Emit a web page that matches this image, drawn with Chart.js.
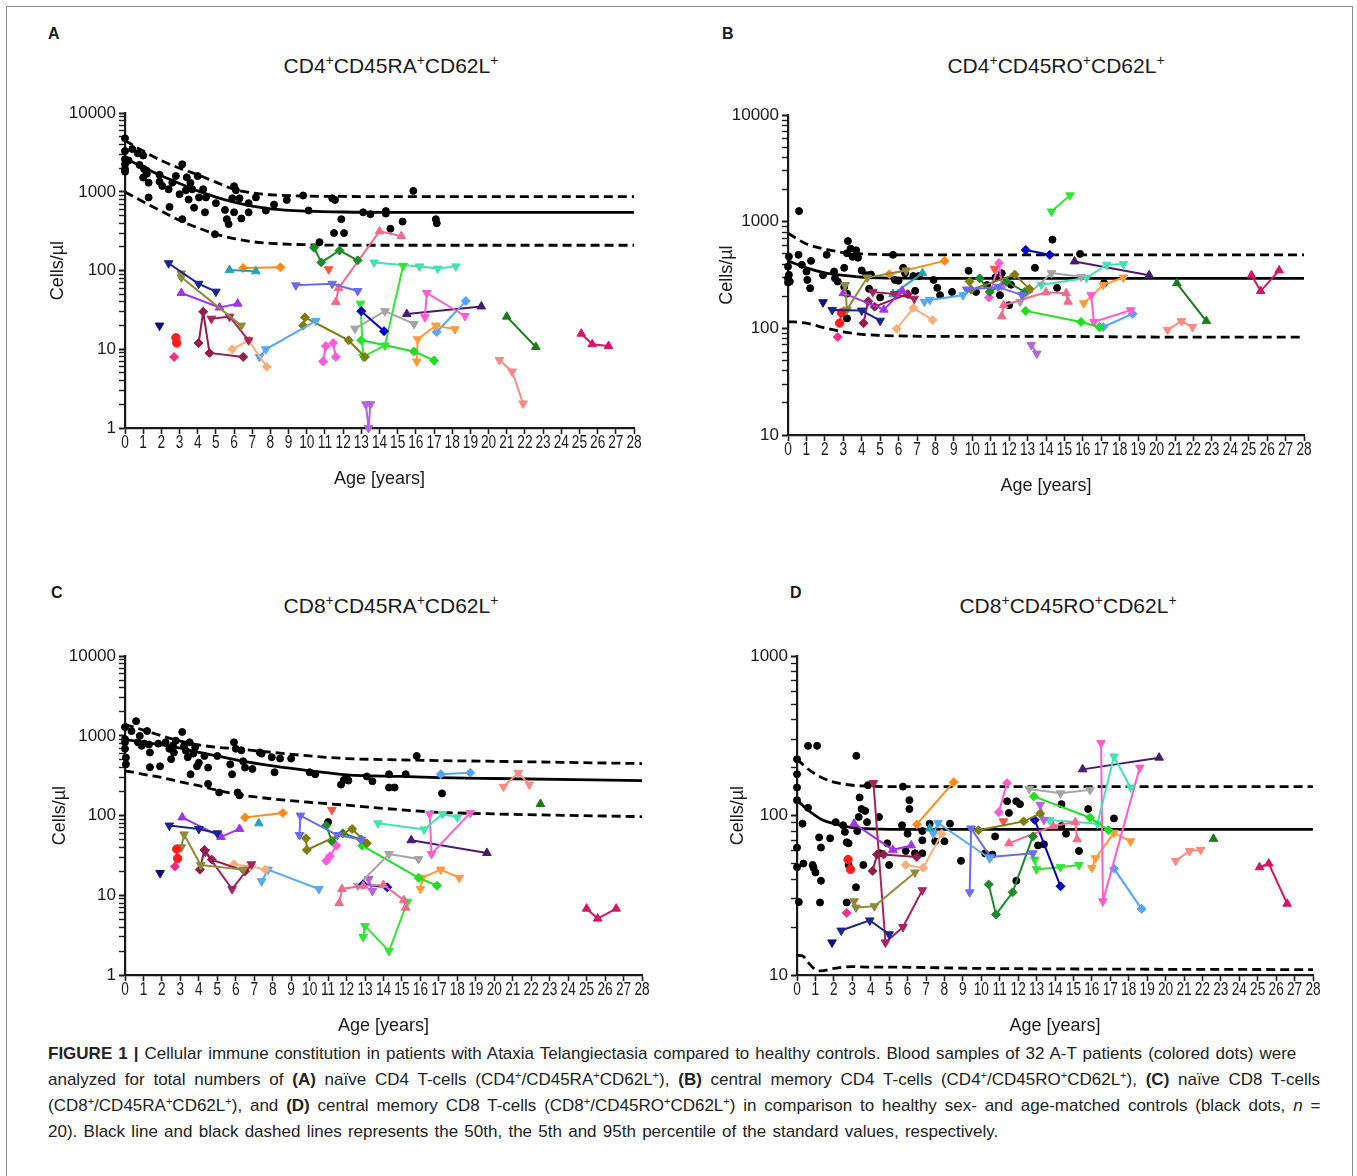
<!DOCTYPE html>
<html>
<head>
<meta charset="utf-8">
<script src="https://cdn.jsdelivr.net/npm/chart.js@4.4.1/dist/chart.umd.min.js"></script>
<style>
  body { margin: 0; width: 1357px; height: 1176px; background: #fff; position: relative; overflow: hidden; font-family: "Liberation Sans", Arial, sans-serif; color: #1a1a1a; }
  .frame { position: absolute; left: 6px; top: 6px; width: 1345px; height: 1200px; border: 1px solid #8f8f8f; }
  canvas { position: absolute; }
  .letter { position: absolute; font-weight: bold; font-size: 16px; }
  .ttl { position: absolute; font-size: 21px; transform: translateX(-50%); white-space: nowrap; }
  .ttl sup { font-size: 14px; vertical-align: 8px; line-height: 0; }
  .cap { position: absolute; left: 48px; font-size: 17px; white-space: nowrap; color: #222; }
  .cap sup { font-size: 11px; vertical-align: 6px; line-height: 0; }
</style>
</head>
<body>
<div class="frame"></div>

<div class="letter" style="left:48px;top:25px;">A</div>
<div class="letter" style="left:722px;top:25px;">B</div>
<div class="letter" style="left:51px;top:584px;">C</div>
<div class="letter" style="left:790px;top:584px;">D</div>

<div class="ttl" style="left:391px;top:54px;">CD4<sup>+</sup>CD45RA<sup>+</sup>CD62L<sup>+</sup></div>
<div class="ttl" style="left:1056px;top:54px;">CD4<sup>+</sup>CD45RO<sup>+</sup>CD62L<sup>+</sup></div>
<div class="ttl" style="left:391px;top:594px;">CD8<sup>+</sup>CD45RA<sup>+</sup>CD62L<sup>+</sup></div>
<div class="ttl" style="left:1068px;top:594px;">CD8<sup>+</sup>CD45RO<sup>+</sup>CD62L<sup>+</sup></div>

<canvas id="chartA"></canvas>
<canvas id="chartB"></canvas>
<canvas id="chartC"></canvas>
<canvas id="chartD"></canvas>

<div class="cap" data-w="1248" style="top:1044px;"><b>FIGURE 1 |</b> Cellular immune constitution in patients with Ataxia Telangiectasia compared to healthy controls. Blood samples of 32 A-T patients (colored dots) were</div>
<div class="cap" data-w="1272" style="top:1070px;">analyzed for total numbers of <b>(A)</b> naïve CD4 T-cells (CD4<sup>+</sup>/CD45RA<sup>+</sup>CD62L<sup>+</sup>), <b>(B)</b> central memory CD4 T-cells (CD4<sup>+</sup>/CD45RO<sup>+</sup>CD62L<sup>+</sup>), <b>(C)</b> naïve CD8 T-cells</div>
<div class="cap" data-w="1272" style="top:1096px;">(CD8<sup>+</sup>/CD45RA<sup>+</sup>CD62L<sup>+</sup>), and <b>(D)</b> central memory CD8 T-cells (CD8<sup>+</sup>/CD45RO<sup>+</sup>CD62L<sup>+</sup>) in comparison to healthy sex- and age-matched controls (black dots, <i>n</i> =</div>
<div class="cap" data-w="950" style="top:1122px;">20). Black line and black dashed lines represents the 50th, the 5th and 95th percentile of the standard values, respectively.</div>

<script>
// ---- x axis ----
const ageTicks = [0, 28];

// ---- reference percentiles (50th, 95th, 5th) ----
const refAgeA = [0, 1, 2, 3, 4, 5, 6, 7, 8, 10, 12, 15, 20, 28];
const p50A = [2700, 2050, 1600, 1280, 1030, 860, 740, 660, 610, 570, 555, 550, 550, 550];
const p95A = [4500, 3300, 2500, 2000, 1650, 1330, 1080, 970, 920, 885, 875, 870, 870, 870];
const p5A = [1000, 750, 570, 435, 350, 290, 255, 233, 222, 213, 210, 210, 210, 210];

const refAgeB = [0, 1, 2, 3, 4, 5, 6, 8, 10, 15, 20, 28];
const p50B = [430, 370, 332, 315, 303, 298, 296, 295, 295, 295, 295, 295];
const p95B = [780, 620, 555, 515, 500, 493, 490, 490, 490, 490, 490, 490];
const p5B = [116, 112, 101, 93, 88, 86, 85, 84, 84, 84, 83, 83];

const refAgeC = [0, 1, 2, 3, 4, 5, 6, 8, 10, 12, 15, 17, 20, 28];
const p50C = [900, 830, 770, 700, 620, 560, 500, 420, 365, 325, 310, 300, 292, 275];
const p95C = [1400, 1180, 1000, 860, 770, 720, 690, 620, 560, 520, 500, 490, 480, 450];
const p5C = [365, 330, 300, 265, 237, 208, 186, 162, 147, 135, 118, 110, 105, 97];

const refAgeD = [0, 0.3, 0.6, 1, 1.3, 2, 3, 4, 5, 10, 28];
const p50D = [125, 116, 108, 100, 95, 89, 84, 82.5, 82, 82, 82];
const p95D = [226, 210, 196, 182, 174, 162, 155, 153, 152, 152, 152];
const p5D = [13.3, 13.2, 12, 10.8, 10.6, 11, 11.3, 11.2, 11.2, 11, 10.8];

// ---- healthy controls (black dots) ----
const ctrlAgeA = [0, 0, 0, 0, 0, 0, 0.2, 0.4, 0.7, 1.0, 0.8, 1.05, 1.2, 1.2, 1.0, 1.3, 1.3, 1.9, 1.9, 2.05, 2.4, 2.6, 2.8, 3.15, 3.0, 2.45, 3.15, 3.4, 3.35, 3.6, 3.5, 3.7, 3.8, 4.0, 4.07, 4.3, 4.4, 4.45, 5.0, 4.95, 5.5, 5.6, 5.7, 5.9, 6.0, 6.1, 6.3, 6.4, 6.0, 6.8, 6.8, 7.2, 7.75, 8.2, 8.9, 9.8, 10.1, 10.7, 11.4, 11.55, 11.9, 11.5, 12.05, 13.1, 13.5, 14.35, 14.35, 14.6, 15.27, 15.86, 17.1, 17.15];
const ctrlValA = [4800, 3300, 2600, 2240, 1950, 1800, 2500, 3500, 3100, 2900, 2200, 1950, 1850, 1700, 1520, 1310, 850, 1650, 1350, 1190, 1080, 1310, 1590, 2240, 935, 645, 450, 1530, 1050, 1300, 800, 1080, 630, 1590, 850, 1080, 550, 850, 720, 290, 590, 450, 390, 830, 1180, 1050, 830, 460, 550, 720, 550, 850, 580, 690, 790, 900, 580, 230, 830, 790, 450, 300, 300, 550, 520, 570, 530, 340, 420, 1030, 450, 400];

const ctrlAgeB = [0.6, 0.05, 0.57, 0.75, 0.05, 0.1, 0, 0, 0, 1.0, 1.05, 1.2, 1.25, 2.1, 1.9, 2.5, 2.55, 2.7, 3.05, 3.2, 3.25, 3.4, 3.5, 3.7, 3.8, 3.05, 3.2, 3.2, 4.0, 4.25, 4.5, 4.4, 5.0, 5.7, 5.8, 6.0, 6.25, 6.35, 6.8, 6.9, 7.1, 7.9, 8.1, 8.25, 8.9, 9.8, 10.2, 10.8, 11.25, 11.5, 12.0, 11.6, 12.1, 13.4, 14.35, 14.6, 15.85, 17.15, 13.1];
const ctrlValB = [1260, 472, 490, 395, 318, 275, 295, 380, 270, 341, 285, 238, 430, 490, 316, 341, 295, 275, 370, 507, 660, 560, 470, 540, 460, 245, 212, 124, 350, 316, 320, 235, 195, 490, 285, 280, 370, 330, 310, 225, 310, 285, 240, 205, 220, 347, 220, 255, 300, 205, 165, 329, 257, 370, 680, 240, 500, 265, 230];

const ctrlAgeC = [0, 0, 0, 0, 0.05, 0.05, 0.35, 0.6, 0.7, 0.8, 1.05, 0.9, 1.2, 1.3, 1.35, 1.35, 1.9, 1.8, 2.2, 2.4, 2.6, 2.5, 2.65, 2.75, 3.1, 3.2, 3.3, 3.4, 3.5, 3.55, 3.7, 3.8, 3.9, 4.0, 4.3, 4.5, 4.5, 5.0, 5.1, 5.7, 5.8, 5.9, 6.0, 6.1, 6.2, 6.3, 6.4, 6.5, 6.9, 7.3, 7.4, 7.95, 8.1, 8.4, 9.0, 10.0, 10.3, 11.7, 11.85, 12.0, 11.0, 12.1, 13.1, 13.4, 14.3, 14.3, 14.6, 15.2, 15.8, 17.17];
const ctrlValC = [1290, 910, 830, 690, 535, 440, 1150, 1530, 830, 1000, 800, 750, 1150, 780, 620, 405, 415, 800, 830, 690, 760, 510, 620, 870, 1120, 750, 650, 540, 830, 330, 600, 720, 415, 460, 560, 400, 250, 560, 195, 440, 330, 830, 690, 195, 180, 660, 480, 400, 385, 620, 600, 540, 350, 520, 520, 350, 330, 245, 280, 300, 83, 275, 310, 270, 330, 225, 225, 330, 560, 190];

const ctrlAgeD = [0.6, 1.09, 3.22, 0, 0, 0, 0, 0, 0, 0.1, 0.3, 0.35, 0.6, 0.85, 0.9, 1.0, 1.2, 1.25, 1.3, 1.3, 1.8, 2.1, 2.5, 2.6, 2.7, 2.8, 2.8, 2.7, 3.2, 3.27, 3.35, 3.5, 3.7, 3.4, 3.8, 3.6, 3.85, 4.45, 4.5, 4.9, 5.0, 5.7, 5.75, 5.9, 6.1, 6.1, 6.0, 6.4, 6.8, 6.8, 6.8, 7.2, 7.5, 8.0, 8.3, 8.9, 10.2, 10.6, 10.75, 11.4, 11.5, 11.9, 11.9, 12.1, 13.08, 13.4, 14.35, 14.35, 14.6, 15.3, 15.8, 17.2];
const ctrlValD = [274, 274, 237, 226, 182, 150, 125, 63, 47.5, 28.7, 89, 50, 112, 49, 47, 44, 73, 28.5, 63, 39, 72, 91, 87, 79, 68, 67, 49, 28.5, 35.5, 80, 98, 110, 107, 130, 91, 49, 155, 98, 58, 67, 49, 87, 152, 60, 110, 125, 77, 58, 80, 70, 58, 89, 69, 69, 89, 52, 58, 57, 74, 123, 104, 123, 39, 118, 65, 66, 118, 86, 77, 60, 110, 96];

// ---- A-T patients: one entry per patient, same order in every panel ----
const ptAgeA = [[1.9], [2.4, 4.05, 5.0], [2.8, 2.85], [2.7], [3.1, 3.1, 6.4], [3.1, 5.2, 6.2], [4.05, 4.3, 4.65, 6.5], [4.75, 5.75, 6.8], [5.75, 7.2], [6.5, 8.55], [5.9, 6.8, 7.8], [7.4, 7.75, 10.5], [9.4, 11.4, 12.8], [9.8, 9.9, 12.3, 13.2], [10.4, 10.8, 11.8, 12.8], [11.2], [10.9, 11.05, null, 11.45, 11.6], [11.6, 11.75, 14.0, 15.2], [13.0, 14.25], [12.65, 14.3, 15.9], [13.25, 13.4, 13.5], [12.95, 13.1, 14.3, 15.3], [13.0, 15.9, 17.0], [13.7, 16.2, 17.2, 18.2], [16.5, 16.6, 18.7], [16.05, 16.1, 17.1, 18.15], [17.15, 18.75], [15.5, 19.6], [21.0, 22.6], [20.6, 21.3, 21.9], [25.1, 25.7, 26.6]];
const ptValA = [[20], [124, 68, 54], [14, 12], [8], [92, 82, 20], [52, 34, 38], [12, 30, 9, 8], [24.5, 26, 13], [102, 98], [108, 110], [10, 13, 6], [8, 10, 23], [65, 68, 55], [20, 25.5, 13, 8], [195, 127, 180, 135], [104], [7, 11, null, 12, 8], [40, 60, 315, 275], [30.5, 17], [18.3, 30.5, 21], [2, 1, 2], [38, 8, 11.2, 115], [13, 9.4, 7.2], [127, 113, 106, 113], [25.6, 52, 26.5], [7, 13.4, 20, 18], [16.6, 41], [28, 35], [26, 10.7], [7.3, 5.2, 2.05], [15.8, 11.6, 11]];

const ptAgeB = [[1.9], [2.4, 4.0, 5.0], [2.9, 2.8], [2.7], [3.1, 3.2, 4.3, 6.4], [3.0, 5.2, 6.2], [4.1, 4.35, 4.7, 6.5], [4.6, 5.8, 6.85], [5.7, 7.3], [5.5, 8.5], [5.9, 6.8, 7.85], [7.4, 7.7, 9.5], [9.7, 11.4, 12.7], [9.85, 9.95, 12.3, 13.1], [10.4, 10.95, 11.85, 12.85], [11.2], [10.9, 11.45, 11.6], [11.6, 11.7, 14.0, 15.1, 15.2], [12.9, 14.2], [12.6, 14.3, 15.9], [13.2, 13.5], [14.3, 15.3], [12.9, 15.9, 16.9], [13.75, 16.2, 17.3, 18.2], [16.45, 16.6, 18.6], [16.05, 17.1, 18.2], [17.1, 18.7], [15.55, 19.6], [21.1, 22.7], [20.6, 21.35, 21.95], [25.15, 25.65, 26.65]];
const ptValB = [[176], [149, 147, 118], [140, 112], [83], [255, 150, 300, 350], [214, 150, 225], [112, 180, 160, 210], [220, 210, 190], [210, 330], [322, 430], [99, 155, 120], [178, 185, 205], [232, 245, 205], [275, 231, 320, 235], [295, 220, 275, 220], [363], [195, 410, 250], [130, 165, 218, 214, 178], [545, 490], [178, 330, 305], [70, 58], [1250, 1770], [146, 115, 103], [257, 297, 396, 400], [205, 115, 148], [172, 255, 300], [103, 137], [425, 315], [265, 117], [97, 117, 103], [315, 224, 350]];

const ptAgeC = [[1.9], [2.4, 4.0, 5.0], [2.8, 2.85], [2.7], [3.05, 3.2, 4.1, 6.4], [3.1, 5.2, 6.2], [4.05, 4.3, 4.7, 6.5], [4.35, 5.8, 6.85], [7.25], [6.5, 8.55], [5.9, 6.8, 7.6], [7.4, 7.75, 10.5], [9.45, 9.5, 11.5, 12.8], [9.8, 9.85, 12.3, 13.1], [10.9, 11.2, 11.8, 12.8], [11.2], [10.9, 11.1, 11.45], [11.6, 11.75, 12.9, 14.0, 15.1, 15.2], [12.9, 14.2], [12.6, 14.3, 15.9], [13.2, 13.4], [12.9, 13.0, 14.3, 15.3], [12.85, 15.9, 16.9], [13.7, 16.2, 17.2, 18.0], [16.5, 16.6, 18.7], [16.0, 16.1, 17.1, 18.1], [17.1, 18.7], [15.5, 19.6], [22.5], [20.5, 21.3, 21.9], [25.0, 25.6, 26.6]];
const ptValC = [[19], [75, 68, 60], [38, 29], [23], [40, 58, 24, 21], [95, 54, 68], [21, 37, 28, 20], [35, 12, 24.5], [80], [95, 108], [24.5, 23, 21], [15, 21, 12], [57, 100, 57, 50], [52, 37, 68, 45], [75, 48, 60, 50], [118], [27, 31, 42], [8, 12, 13.2, 13.5, 8.7, 7], [13.7, 12.6], [13.2, 33, 28.5], [16, 11.3], [3, 4.1, 2, 8.3], [42, 16.6, 13.2], [80, 67, 105, 95], [105, 33, 108], [12, 16.6, 21, 16.6], [330, 345], [49, 34], [140], [230, 345, 245], [6.8, 5.1, 6.8]];

const ptAgeD = [[1.9], [2.4, 3.95, 5.0], [2.77, 2.9], [2.7], [3.1, 3.2, 4.2, 6.4], [3.1, 5.2, 6.2], [4.1, 4.35, 4.7, 6.5], [4.15, 4.8, 5.75, 6.8], [7.2], [6.5, 8.5], [5.9, 6.85, 7.85], [7.4, 7.65, 10.45], [9.37, 9.45, 10.5, 12.8], [9.85, 12.3, 13.2], [10.4, 10.8, 11.7, 12.8], [11.2], [10.95, 11.4], [11.5, 13.9, 15.1, 15.2], [12.9, 14.3], [12.6, 14.3, 15.9], [13.2, 13.4], [12.9, 13.0, 14.3, 15.3], [12.85, 15.9, 16.9], [13.7, 16.3, 17.2, 18.1], [16.5, 16.6, 18.6], [16.0, 16.2, 17.2, 18.1], [17.2, 18.7], [15.5, 19.65], [22.6], [20.55, 21.3, 21.9], [25.1, 25.6, 26.6]];
const ptValD = [[16], [19, 22, 18], [53, 46], [24.5], [29, 26.5, 27, 44], [89, 61, 65], [45, 57, 57, 55], [160, 16, 20, 34], [83], [88, 162], [49, 47, 77], [77, 90, 54], [33, 83, 55, 58], [81, 92, 103], [37, 24, 33, 74], [92], [105, 160], [67, 86, 91, 71], [94, 36], [147, 138, 145], [117, 94], [53, 46, 47.5, 49], [132, 97, 81], [94, 89, 235, 150], [285, 29, 200], [47, 54, 78, 69], [46.5, 26], [195, 231], [71.5], [52, 60, 61], [47.4, 50, 28]];

// patient styling (colour / marker), index-matched with the arrays above
const ptColor = ['#0c0c80', '#1b2590', '#ff1f1f', '#f32f86', '#8f8a3c', '#a233ea', '#941c4c', '#a6245e', '#22a3b9', '#ff8a1c', '#f5b07e', '#58a8f0', '#6b6bef', '#7f7d0c', '#1e8a28', '#ff5343', '#ff5ad9', '#f26a8c', '#0000c4', '#a4a4a4', '#b463e2', '#36e236', '#22dd22', '#45e0b4', '#ff5ccc', '#ff9b3e', '#52a4ff', '#4a1a70', '#1d7b1d', '#f88b82', '#d2176a'];
const ptShape = ['down', 'down', 'circle', 'diamond', 'down', 'up', 'diamond', 'down', 'up', 'diamond', 'diamond', 'down', 'down', 'diamond', 'diamond', 'down', 'diamond', 'up', 'diamond', 'down', 'down', 'down', 'diamond', 'down', 'down', 'down', 'diamond', 'up', 'up', 'down', 'up'];

Chart.defaults.font.family = '"Liberation Sans", Arial, sans-serif';
Chart.defaults.color = '#1a1a1a';

function isDecade(v) {
  const l = Math.log10(v);
  return Math.abs(l - Math.round(l)) < 1e-9;
}

// age labels are printed condensed in the original, so draw them squeezed
const narrowAgeLabels = {
  id: 'narrowAgeLabels',
  afterDraw(chart) {
    const s = chart.scales.x;
    const ctx = chart.ctx;
    ctx.save();
    ctx.font = '18px "Liberation Sans", Arial, sans-serif';
    ctx.fillStyle = '#1a1a1a';
    ctx.textAlign = 'center';
    ctx.textBaseline = 'top';
    s.ticks.forEach((t) => {
      ctx.save();
      ctx.translate(s.getPixelForValue(t.value), s.top + 6);
      ctx.scale(0.76, 1);
      ctx.fillText(String(t.value), 0, 0);
      ctx.restore();
    });
    ctx.restore();
  },
};

function makePanel(id, plot, yMin, yMax, yW, ref, ctrlAge, ctrlVal, ptAge, ptVal) {
  const padTop = 12, padRight = 14, xH = 64;
  const canvas = document.getElementById(id);
  const left = plot.l - yW, top = plot.t - padTop;
  canvas.style.left = left + 'px';
  canvas.style.top = top + 'px';
  canvas.width = plot.r + padRight - left;
  canvas.height = plot.b + xH - top;

  const lineSet = (vals, dashed) => ({
    type: 'scatter', showLine: true, data: ref.age.map((x, i) => ({ x, y: vals[i] })),
    borderColor: '#000', borderWidth: 2.8, borderDash: dashed ? [9, 5] : [], pointRadius: 0,
    cubicInterpolationMode: 'monotone', clip: false, order: 2,
  });

  const shapeOf = { down: 'triangle', up: 'triangle', diamond: 'rectRot', circle: 'circle' };
  const patients = ptAge.map((ages, i) => ({
    type: 'scatter', showLine: true, spanGaps: false,
    data: ages.map((x, j) => ({ x, y: ptVal[i][j] })),
    borderColor: ptColor[i], backgroundColor: ptColor[i], borderWidth: 2,
    pointStyle: shapeOf[ptShape[i]], rotation: ptShape[i] === 'down' ? 180 : 0,
    pointRadius: ptShape[i] === 'diamond' ? 4.5 : ptShape[i] === 'circle' ? 4.2 : 5,
    pointBorderWidth: 1, clip: false, order: 1,
  }));

  new Chart(canvas, {
    type: 'scatter',
    data: {
      datasets: [
        ...patients,
        lineSet(ref.p50, false),
        lineSet(ref.p95, true),
        lineSet(ref.p5, true),
        {
          type: 'scatter', data: ctrlAge.map((x, i) => ({ x, y: ctrlVal[i] })),
          backgroundColor: '#000', borderColor: '#000', pointRadius: 3.5, clip: false, order: 3,
        },
      ],
    },
    options: {
      responsive: false, animation: false, devicePixelRatio: 1,
      layout: { padding: { top: padTop, right: padRight, left: 0, bottom: 0 } },
      plugins: { legend: { display: false }, tooltip: { enabled: false } },
      scales: {
        x: {
          type: 'linear', min: ageTicks[0], max: ageTicks[1],
          ticks: { stepSize: 1, autoSkip: false, maxRotation: 0, padding: 1, color: 'rgba(0,0,0,0)', font: { size: 15 } },
          grid: { drawOnChartArea: false, drawTicks: true, tickLength: 6, tickColor: '#1a1a1a', tickWidth: 1.6 },
          border: { color: '#1a1a1a', width: 2.2 },
          title: { display: true, text: 'Age [years]', font: { size: 18 }, color: '#1a1a1a', padding: { top: 6, bottom: 2 } },
          afterFit: (s) => { s.height = xH; },
        },
        y: {
          type: 'logarithmic', min: yMin, max: yMax,
          afterBuildTicks: (s) => {
            const t = [];
            for (let d = yMin; d < yMax; d *= 10) {
              for (let k = 1; k < 10; k++) t.push({ value: d * k, major: k === 1 });
            }
            t.push({ value: yMax, major: true });
            s.ticks = t;
          },
          ticks: { autoSkip: false, padding: 3, color: '#1a1a1a', font: { size: 17 }, callback: (v) => (isDecade(v) ? String(v) : '') },
          grid: { drawOnChartArea: false, drawTicks: true, tickLength: 6, tickColor: '#1a1a1a', tickWidth: (c) => (c.tick && isDecade(c.tick.value) ? 2 : 1.4) },
          border: { color: '#1a1a1a', width: 2.2 },
          title: { display: true, text: 'Cells/µl', font: { size: 18 }, color: '#1a1a1a', padding: { top: 2, bottom: 4 } },
          afterFit: (s) => { s.width = yW; },
        },
      },
    },
    plugins: [narrowAgeLabels],
  });
}

makePanel('chartA', { l: 125, t: 112, r: 634, b: 428 }, 1, 10000, 80,
  { age: refAgeA, p50: p50A, p95: p95A, p5: p5A }, ctrlAgeA, ctrlValA, ptAgeA, ptValA);
makePanel('chartB', { l: 788, t: 114, r: 1304, b: 435 }, 10, 10000, 74,
  { age: refAgeB, p50: p50B, p95: p95B, p5: p5B }, ctrlAgeB, ctrlValB, ptAgeB, ptValB);
makePanel('chartC', { l: 125, t: 655, r: 642, b: 975 }, 1, 10000, 78,
  { age: refAgeC, p50: p50C, p95: p95C, p5: p5C }, ctrlAgeC, ctrlValC, ptAgeC, ptValC);
makePanel('chartD', { l: 797, t: 655, r: 1313, b: 975 }, 10, 1000, 72,
  { age: refAgeD, p50: p50D, p95: p95D, p5: p5D }, ctrlAgeD, ctrlValD, ptAgeD, ptValD);

// justify the caption lines to the widths of the printed figure
document.querySelectorAll('.cap[data-w]').forEach((el) => {
  const target = Number(el.dataset.w);
  const spaces = (el.textContent.match(/ /g) || []).length;
  const extra = (target - el.scrollWidth) / spaces;
  el.style.wordSpacing = extra.toFixed(2) + 'px';
});
</script>
</body>
</html>
